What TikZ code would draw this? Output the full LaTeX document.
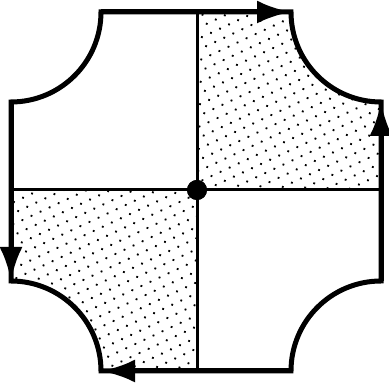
\documentclass[tikz,border=0pt]{standalone}
\usepackage{tikz}
\usetikzlibrary{arrows.meta,patterns.meta}

\begin{document}
\begin{tikzpicture}[x=1pt, y=1pt]
\tikzstyle{rim}=[line width=5pt, line join=miter]
\tikzstyle{flow}=[line width=5pt, -{Latex[length=34pt,width=23pt]}]
\tikzstyle{axis}=[line width=3pt]
\tikzstyle{stipple}=[pattern={Dots[distance=10pt,radius=1.3pt,angle=25]}]
\useasboundingbox (0,0) rectangle (389,385);
\coordinate (tla) at (101,373);
\coordinate (tra) at (291,373);
\coordinate (rt) at (381,283);
\coordinate (rb) at (381,104);
\coordinate (brr) at (291,14);
\coordinate (bll) at (101,14);
\coordinate (lb) at (11,104);
\coordinate (lt) at (11,283);
\coordinate (n) at (197,373);
\coordinate (s) at (197,14);
\coordinate (w) at (11,195);
\coordinate (e) at (381,195);
\node[circle, fill, inner sep=0pt, minimum size=20pt] (o) at (197,195) {};
% shaded quarters
\fill[stipple] (n) -- (tra) arc[start angle=180, end angle=270, radius=90] -- (e) -- (o.center) -- cycle;
\fill[stipple] (s) -- (bll) arc[start angle=0, end angle=90, radius=90] -- (w) -- (o.center) -- cycle;
\draw[axis] (n) -- (s);
\draw[axis] (w) -- (e);
% boundary
\draw[rim] (tla) -- (tra) arc[start angle=180, end angle=270, radius=90] -- (rb)
  arc[start angle=90, end angle=180, radius=90] -- (bll)
  arc[start angle=0, end angle=90, radius=90] -- (lt)
  arc[start angle=-90, end angle=0, radius=90] -- cycle;
\draw[flow] (tla) -- (tra);
\draw[flow] (rb) -- (rt);
\draw[flow] (brr) -- (bll);
\draw[flow] (lt) -- (lb);
\node[circle, fill, inner sep=0pt, minimum size=20pt] at (o) {};
\end{tikzpicture}
\end{document}
